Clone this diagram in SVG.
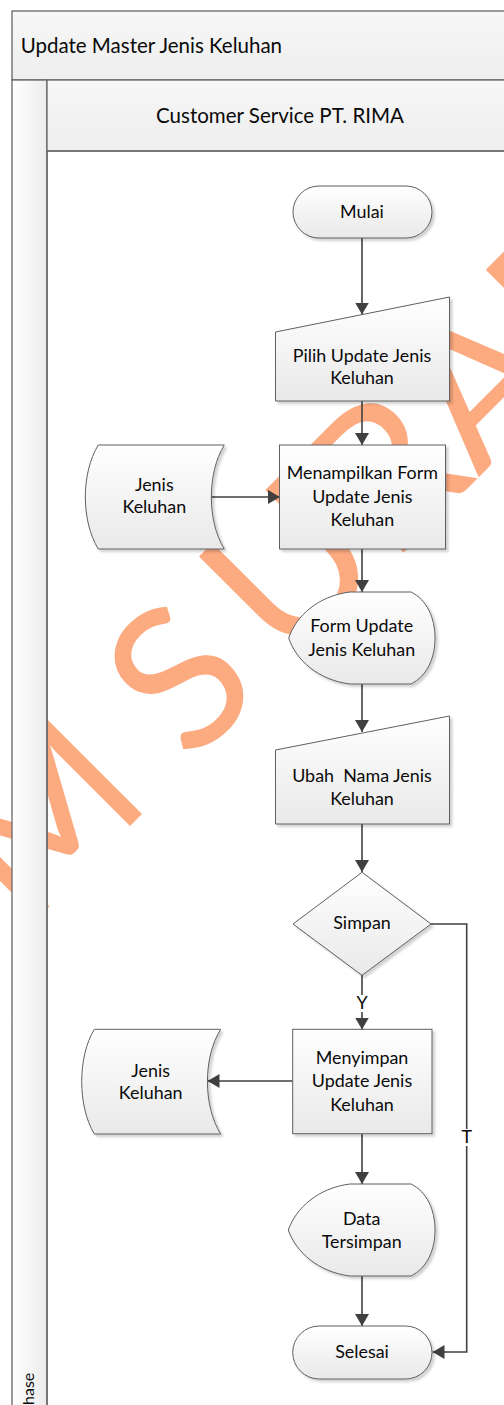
<svg xmlns="http://www.w3.org/2000/svg" width="504" height="1405" viewBox="0 0 504 1405">
  <defs>
    <linearGradient id="nodeFill" x1="0" y1="0" x2="0" y2="1">
      <stop offset="0" stop-color="#ffffff"/>
      <stop offset="1" stop-color="#e9e9e9"/>
    </linearGradient>
    <linearGradient id="bandFill" x1="0" y1="0" x2="0" y2="1">
      <stop offset="0" stop-color="#f7f7f7"/>
      <stop offset="1" stop-color="#eeeeee"/>
    </linearGradient>
    <linearGradient id="phaseFill" x1="0" y1="0" x2="1" y2="0">
      <stop offset="0" stop-color="#ffffff"/>
      <stop offset="1" stop-color="#ececec"/>
    </linearGradient>
    <filter id="shadow" x="-10%" y="-10%" width="130%" height="130%">
      <feDropShadow dx="2.5" dy="2.5" stdDeviation="1" flood-color="#000000" flood-opacity="0.18"/>
    </filter>
    <marker id="arrow" viewBox="0 0 12 14" refX="12" refY="7" markerWidth="12" markerHeight="14" markerUnits="userSpaceOnUse" orient="auto">
      <path d="M0,0 L12,7 L0,14 Z" fill="#404040"/>
    </marker>
  </defs>
  <style>
    .node { fill: url(#nodeFill); stroke: #5f5f5f; stroke-width: 1; filter: url(#shadow); }
    .lbl { font-family: Lato, "Liberation Sans", sans-serif; font-size: 17.9px; fill: #0a0a0a; text-anchor: middle; white-space: pre; }
    .edge { fill: none; stroke: #404040; stroke-width: 1.6; }
    .band { stroke: #666666; stroke-width: 1.3; }
    .wm { font-family: Lato, "Liberation Sans", sans-serif; font-size: 198px; fill: #fcaa80; }
  </style>

  <rect x="0" y="0" width="504" height="1405" fill="#ffffff"/>

  <!-- watermark -->
  <text class="wm" transform="translate(-372,1328) rotate(-45)">STIKOM S<tspan dx="30">URABAYA</tspan></text>

  <!-- swimlane frame -->
  <g id="pool">
    <rect class="band" x="12" y="11" width="600" height="69" fill="url(#bandFill)"/>
    <text x="20.7" y="53.3" font-family="Lato, 'Liberation Sans', sans-serif" font-size="20.5px" fill="#0a0a0a">Update Master Jenis Keluhan</text>
    <rect class="band" x="12" y="80" width="35" height="1400" fill="url(#phaseFill)"/>
    <text transform="translate(34,1372.7) rotate(-90)" text-anchor="end" font-family="Lato, 'Liberation Sans', sans-serif" font-size="16px" fill="#0a0a0a">Phase</text>
    <rect class="band" x="47" y="80" width="565" height="71" fill="url(#bandFill)"/>
    <text x="280" y="123.3" text-anchor="middle" font-family="Lato, 'Liberation Sans', sans-serif" font-size="20.5px" fill="#0a0a0a">Customer Service PT. RIMA</text>
    <rect class="band" x="47" y="151" width="565" height="1330" fill="none"/>
  </g>

  <!-- connectors -->
  <g id="connectors">
    <path class="edge" d="M362,238 V314.5" marker-end="url(#arrow)"/>
    <path class="edge" d="M362,401 V445" marker-end="url(#arrow)"/>
    <path class="edge" d="M211,497 H280" marker-end="url(#arrow)"/>
    <path class="edge" d="M362,549 V592" marker-end="url(#arrow)"/>
    <path class="edge" d="M362,684 V732" marker-end="url(#arrow)"/>
    <path class="edge" d="M362,824 V872" marker-end="url(#arrow)"/>
    <path class="edge" d="M362,975 V1029.5" marker-end="url(#arrow)"/>
    <path class="edge" d="M292.7,1081 H207.5" marker-end="url(#arrow)"/>
    <path class="edge" d="M362,1134 V1184" marker-end="url(#arrow)"/>
    <path class="edge" d="M362,1276 V1326" marker-end="url(#arrow)"/>
    <path class="edge" d="M431,924 H466.7 V1352 H432.5" marker-end="url(#arrow)"/>
    <rect x="355" y="995" width="14" height="17" fill="#ffffff"/>
    <text class="lbl" x="362" y="1009.3">Y</text>
    <rect x="460" y="1129" width="14" height="17" fill="#ffffff"/>
    <text class="lbl" x="466.7" y="1143.3">T</text>
  </g>

  <g id="mulai">
    <rect class="node" x="293" y="186" width="139" height="52" rx="26"/>
    <text class="lbl" x="362" y="218.3">Mulai</text>
  </g>

  <g id="pilih-update">
    <polygon class="node" points="275.5,332 449.5,297 449.5,401 275.5,401"/>
    <text class="lbl" x="362" y="361.7">Pilih Update Jenis</text>
    <text class="lbl" x="362" y="384">Keluhan</text>
  </g>

  <g id="jenis-keluhan-1">
    <path class="node" d="M98.3,445 H224.3 C207,473 207,521 224.3,549 H98.3 C81,521 81,473 98.3,445 Z"/>
    <text class="lbl" x="154.3" y="491">Jenis</text>
    <text class="lbl" x="154.3" y="513.3">Keluhan</text>
  </g>

  <g id="tampil-form">
    <rect class="node" x="279.5" y="445" width="166" height="104"/>
    <text class="lbl" x="362.3" y="479.3">Menampilkan Form</text>
    <text class="lbl" x="362.3" y="502.7">Update Jenis</text>
    <text class="lbl" x="362.3" y="525.7">Keluhan</text>
  </g>

  <g id="form-update">
    <path class="node" d="M350,592 H411 C427,600 435,618 435,638 C435,658 427,676 411,684 H350 C318,680 296,660 288.7,638 C296,616 318,596 350,592 Z"/>
    <text class="lbl" x="361.7" y="632">Form Update</text>
    <text class="lbl" x="361.7" y="655.7">Jenis Keluhan</text>
  </g>

  <g id="ubah-nama">
    <polygon class="node" points="275.5,750 449.5,716 449.5,824 275.5,824"/>
    <text class="lbl" x="362" y="781.7">Ubah  Nama Jenis</text>
    <text class="lbl" x="362" y="804.7">Keluhan</text>
  </g>

  <g id="simpan">
    <polygon class="node" points="362,872.3 431,924 362,975.3 293,924"/>
    <text class="lbl" x="362" y="929">Simpan</text>
  </g>

  <g id="menyimpan">
    <rect class="node" x="292.7" y="1029.3" width="139.3" height="104.4"/>
    <text class="lbl" x="362" y="1064.3">Menyimpan</text>
    <text class="lbl" x="362" y="1087.3">Update Jenis</text>
    <text class="lbl" x="362" y="1110.7">Keluhan</text>
  </g>

  <g id="jenis-keluhan-2">
    <path class="node" d="M94.3,1029.3 H220.7 C203,1057 203,1106 220.7,1134 H94.3 C77.5,1106 77.5,1057 94.3,1029.3 Z"/>
    <text class="lbl" x="150.7" y="1076.7">Jenis</text>
    <text class="lbl" x="150.7" y="1099.3">Keluhan</text>
  </g>

  <g id="data-tersimpan">
    <path class="node" d="M350,1184 H411 C427,1192 435,1210 435,1230 C435,1250 427,1268 411,1276 H350 C318,1272 296,1252 288.3,1230 C296,1208 318,1188 350,1184 Z"/>
    <text class="lbl" x="361.7" y="1225">Data</text>
    <text class="lbl" x="361.7" y="1247.7">Tersimpan</text>
  </g>

  <g id="selesai">
    <rect class="node" x="292.7" y="1326" width="139.3" height="53" rx="26.5"/>
    <text class="lbl" x="362" y="1357.7">Selesai</text>
  </g>
</svg>
